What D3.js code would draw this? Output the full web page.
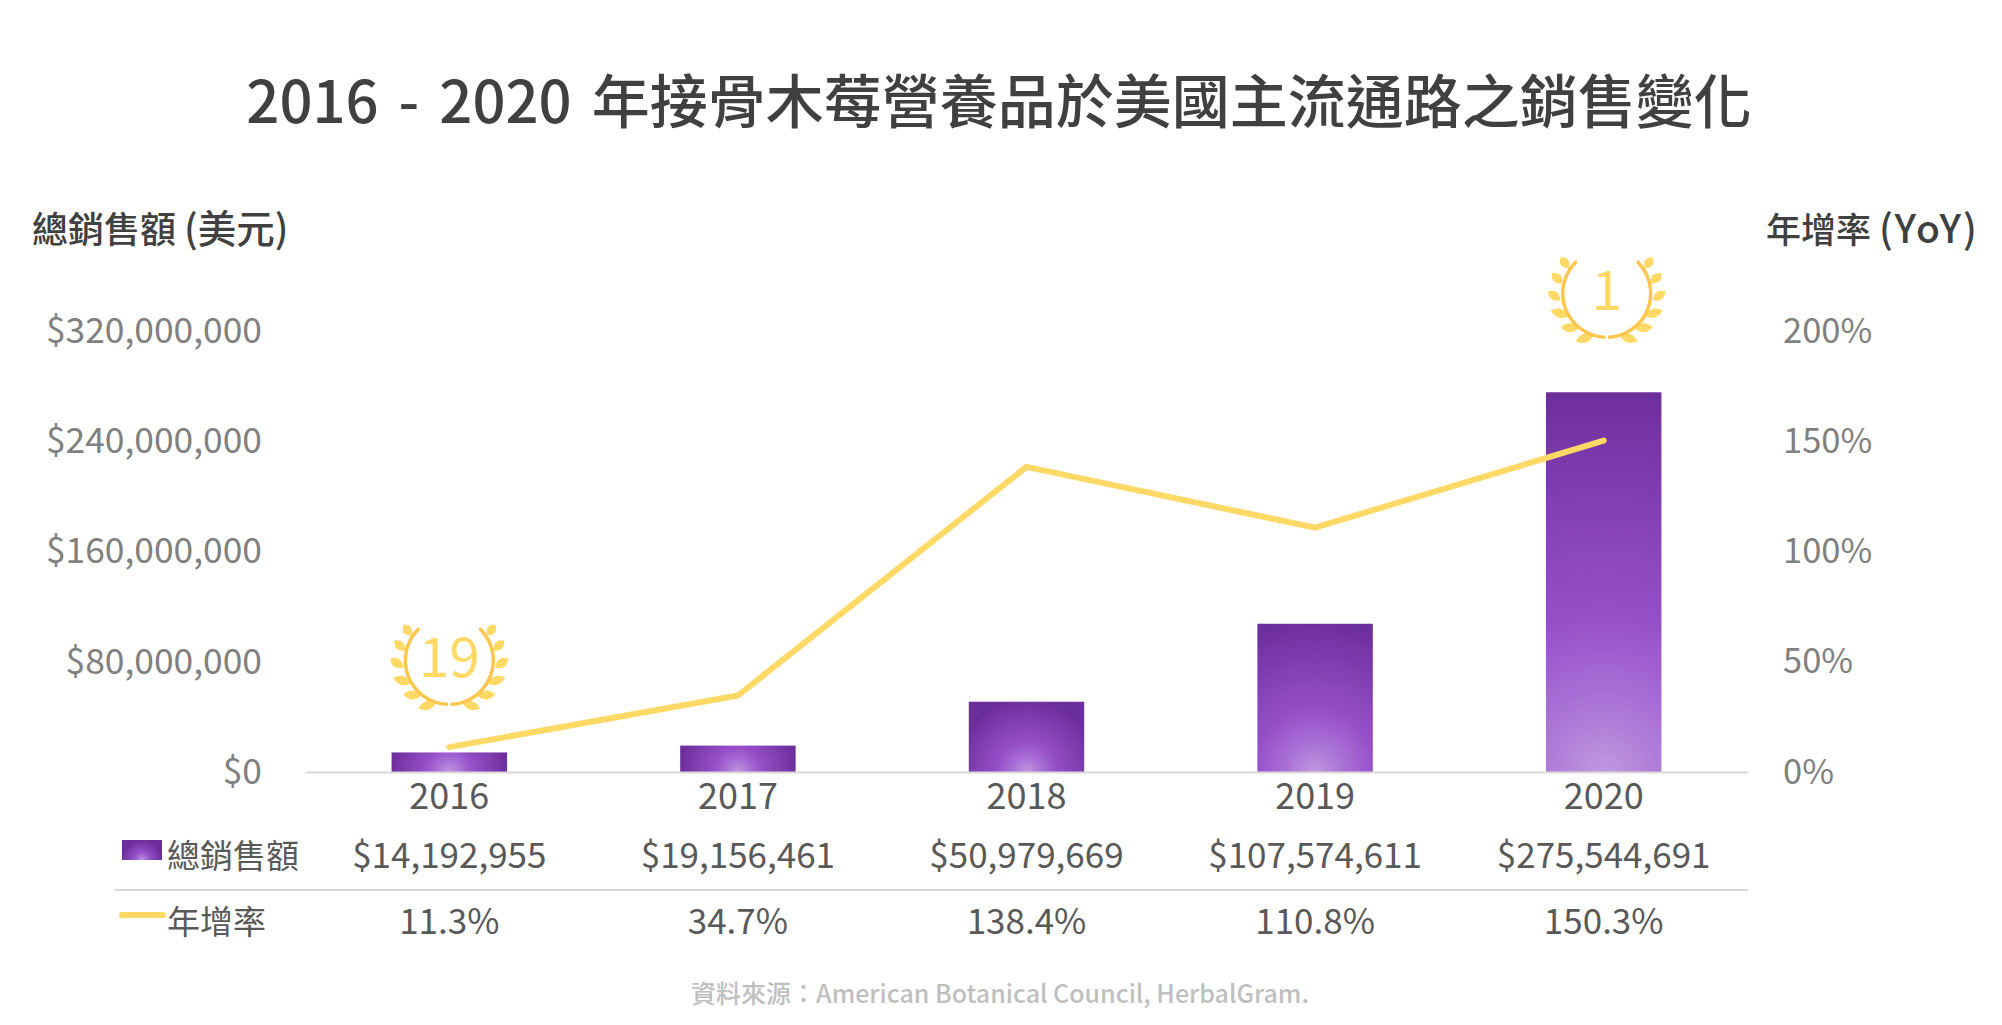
<!DOCTYPE html>
<html>
<head>
<meta charset="utf-8">
<script src="https://cdn.jsdelivr.net/npm/d3@7"></script>
<style>
  body { margin: 0; background: #fff; }
  text { font-family: "Noto Sans CJK TC", "Noto Sans", sans-serif; }
</style>
</head>
<body>
<div id="graph"></div>
<script>
// chart data
var years = ["2016", "2017", "2018", "2019", "2020"];
var sales = [14192955, 19156461, 50979669, 107574611, 275544691];
var yoy = [11.3, 34.7, 138.4, 110.8, 150.3];
var salesTicks = [0, 80000000, 160000000, 240000000, 320000000];
var yoyTicks = [0, 50, 100, 150, 200];
var rankYears = ["2016", "2020"];
var rankLabels = ["19", "1"];

var title = "2016 - 2020 年接骨木莓營養品於美國主流通路之銷售變化";
var leftTitle = ["總銷售額 ", "(美元)"];
var rightTitle = ["年增率 ", "(YoY)"];
var salesLabel = "總銷售額";
var yoyLabel = "年增率";
var source = "資料來源：American Botanical Council, HerbalGram.";

// set the dimensions and margins of the graph
var margin = {top: 331, right: 254, bottom: 253, left: 305};
var width = 2002 - margin.left - margin.right;
var height = 1025 - margin.top - margin.bottom;

var svg = d3.select("#graph")
  .append("svg")
  .attr("width", 2002)
  .attr("height", 1025)
  .style("display", "block");

var defs = svg.append("defs");
var g = svg.append("g")
  .attr("transform", "translate(" + margin.left + "," + margin.top + ")");

// set the ranges
var x = d3.scaleBand().domain(years).range([0, width]).paddingInner(0.6).paddingOuter(0.3);
var ySales = d3.scaleLinear().domain([0, 320000000]).range([height, 0]);
var yYoy = d3.scaleLinear().domain([0, 200]).range([height, 0]);
var fmtMoney = d3.format("$,");

function center(year) { return x(year) + x.bandwidth() / 2; }

// radial fill, light spot at the bottom middle of each bar
function addGradient(id, cx, cy, r) {
  var grad = defs.append("radialGradient")
    .attr("id", id)
    .attr("gradientUnits", "userSpaceOnUse")
    .attr("cx", cx).attr("cy", cy).attr("r", r);
  grad.append("stop").attr("offset", 0).attr("stop-color", "#bf98de");
  grad.append("stop").attr("offset", 0.2).attr("stop-color", "#a96fd6");
  grad.append("stop").attr("offset", 0.4).attr("stop-color", "#9650c8");
  grad.append("stop").attr("offset", 1).attr("stop-color", "#6c2e9b");
}

years.forEach(function(year, i) {
  var h = height - ySales(sales[i]);
  addGradient("bar" + i, center(year), height, Math.max(x.bandwidth() / 2, h) * 1.03);
});

// bars
g.selectAll(".bar")
  .data(years)
  .enter()
  .append("rect")
  .attr("class", "bar")
  .attr("x", function(d) { return x(d); })
  .attr("y", function(d, i) { return ySales(sales[i]); })
  .attr("width", x.bandwidth())
  .attr("height", function(d, i) { return height - ySales(sales[i]); })
  .attr("fill", function(d, i) { return "url(#bar" + i + ")"; });

// x axis
var xAxis = g.append("g")
  .attr("transform", "translate(0," + height + ")")
  .call(d3.axisBottom(x).tickSize(0).tickPadding(11));
xAxis.select(".domain").attr("stroke", "#d9d9d9").attr("stroke-width", 2);
xAxis.selectAll("text")
  .style("font-size", "36px")
  .attr("fill", "#595959");

// left axis
var leftAxis = g.append("g")
  .call(d3.axisLeft(ySales).tickValues(salesTicks).tickFormat(fmtMoney).tickSize(0).tickPadding(43));
leftAxis.select(".domain").remove();
leftAxis.selectAll("text")
  .style("font-size", "35.4px")
  .attr("fill", "#808080");

// right axis, labels start at the same x
var rightAxis = g.append("g")
  .attr("transform", "translate(" + width + ",0)")
  .call(d3.axisRight(yYoy).tickValues(yoyTicks).tickFormat(function(d) { return d + "%"; }).tickSize(0).tickPadding(35));
rightAxis.select(".domain").remove();
rightAxis.selectAll("text")
  .style("font-size", "34.5px")
  .attr("fill", "#808080");

// yoy line
var line = d3.line()
  .x(function(d, i) { return center(years[i]); })
  .y(function(d) { return yYoy(d); });

g.append("path")
  .datum(yoy)
  .attr("d", line)
  .attr("fill", "none")
  .attr("stroke", "#ffd966")
  .attr("stroke-width", 6)
  .attr("stroke-linecap", "round")
  .attr("stroke-linejoin", "round");

// laurel badge, [from, to] of each right side leaf around the badge center
var leaves = [
  [[38, -25], [46, -36]],
  [[44, -10], [55, -20]],
  [[46, 7], [59, -2]],
  [[38, 23], [56, 17]],
  [[28, 35], [46, 34]],
  [[13, 42], [31, 48]]
];

function leafPath(a, b) {
  var mx = (a[0] + b[0]) / 2, my = (a[1] + b[1]) / 2;
  var dx = b[0] - a[0], dy = b[1] - a[1];
  var len = Math.sqrt(dx * dx + dy * dy);
  var nx = -dy / len * 9, ny = dx / len * 9;
  return "M" + a + "Q" + (mx + nx) + "," + (my + ny) + " " + b +
    "Q" + (mx - nx) + "," + (my - ny) + " " + a + "Z";
}

var branch = d3.path();
branch.arc(0, 0, 44, -Math.PI / 4, Math.PI * 0.48);

rankYears.forEach(function(year, i) {
  var yearIndex = years.indexOf(year);
  // badge sits above the bar
  var cy = i === 0 ? ySales(sales[yearIndex]) - 92 : ySales(sales[yearIndex]) - 99;
  var cx = i === 0 ? center(year) : center(year) + 3;
  var badge = g.append("g")
    .attr("transform", "translate(" + cx + "," + cy + ")");
  [1, -1].forEach(function(side) {
    var wing = badge.append("g").attr("transform", "scale(" + side + ",1)");
    wing.selectAll("path.leaf")
      .data(leaves)
      .enter()
      .append("path")
      .attr("class", "leaf")
      .attr("d", function(d) { return leafPath(d[0], d[1]); })
      .attr("fill", "#ffd966");
    wing.append("path")
      .attr("d", branch.toString())
      .attr("fill", "none")
      .attr("stroke", "#ffc64f")
      .attr("stroke-width", 3.5)
      .attr("stroke-linecap", "round");
  });
  badge.append("text")
    .attr("text-anchor", "middle")
    .attr("y", 17)
    .style("font-size", "55px")
    .attr("fill", "#ffd966")
    .text(rankLabels[i]);
});

// titles
svg.append("text")
  .attr("x", 999)
  .attr("y", 123)
  .attr("text-anchor", "middle")
  .style("font-size", "58px")
  .style("font-weight", 500)
  .style("word-spacing", "7px")
  .attr("fill", "#404040")
  .text(title);

var leftText = svg.append("text")
  .attr("x", 32)
  .attr("y", 243)
  .style("font-size", "36px")
  .style("font-weight", 500)
  .attr("fill", "#404040");
leftText.append("tspan").text(leftTitle[0]);
leftText.append("tspan").style("font-size", "38.5px").text(leftTitle[1]);

var rightText = svg.append("text")
  .attr("x", 1766)
  .attr("y", 243)
  .style("font-size", "35px")
  .style("font-weight", 500)
  .attr("fill", "#404040");
rightText.append("tspan").text(rightTitle[0]);
rightText.append("tspan").style("font-size", "39px").style("letter-spacing", "1.8px").text(rightTitle[1]);

// data table under the chart
var table = svg.append("g");

function tableRow(values, cy) {
  table.selectAll(null)
    .data(values)
    .enter()
    .append("text")
    .attr("x", function(d, i) { return margin.left + center(years[i]); })
    .attr("y", cy)
    .attr("dy", "0.35em")
    .attr("text-anchor", "middle")
    .style("font-size", "35px")
    .attr("fill", "#595959")
    .text(function(d) { return d; });
}

tableRow(sales.map(fmtMoney), 856);
tableRow(yoy.map(function(d) { return d.toFixed(1) + "%"; }), 922);

table.append("line")
  .attr("x1", 115).attr("x2", margin.left + width)
  .attr("y1", 890).attr("y2", 890)
  .attr("stroke", "#d9d9d9")
  .attr("stroke-width", 2);

addGradient("legendSwatch", 142, 860, 20);
table.append("rect")
  .attr("x", 122).attr("y", 840)
  .attr("width", 40).attr("height", 20)
  .attr("fill", "url(#legendSwatch)");

table.append("line")
  .attr("x1", 122).attr("x2", 163)
  .attr("y1", 915).attr("y2", 915)
  .attr("stroke", "#ffd966")
  .attr("stroke-width", 6)
  .attr("stroke-linecap", "round");

table.append("text")
  .attr("x", 167).attr("y", 856).attr("dy", "0.35em")
  .style("font-size", "33px")
  .attr("fill", "#595959")
  .text(salesLabel);

table.append("text")
  .attr("x", 167).attr("y", 922).attr("dy", "0.35em")
  .style("font-size", "33px")
  .attr("fill", "#595959")
  .text(yoyLabel);

// source
svg.append("text")
  .attr("x", 1000)
  .attr("y", 1003)
  .attr("text-anchor", "middle")
  .style("font-size", "25px")
  .style("font-weight", 500)
  .attr("fill", "#bfbfbf")
  .text(source);
</script>
</body>
</html>
